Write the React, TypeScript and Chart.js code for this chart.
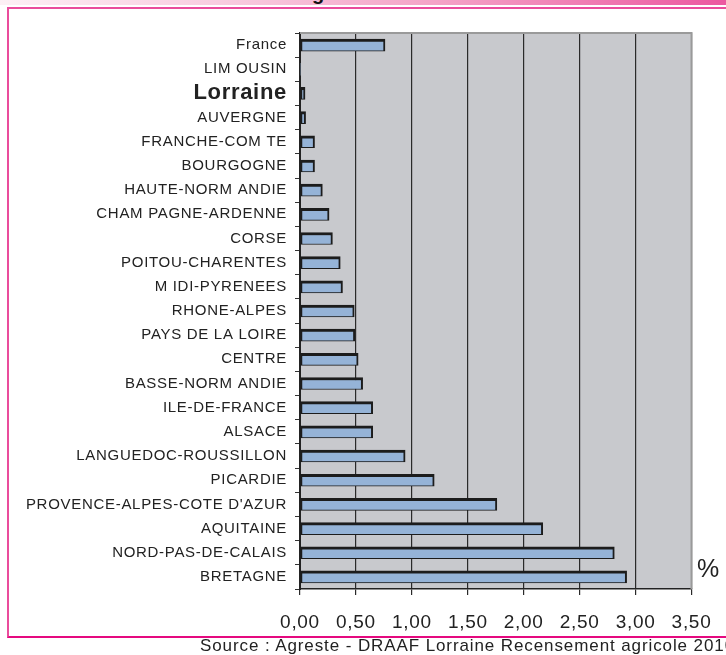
import React, { useEffect, useRef } from "react";
import { Chart, registerables } from "chart.js";

Chart.register(...registerables);

// Regions, listed top to bottom
const regions: string[] = [
  "France",
  "LIM OUSIN",
  "Lorraine",
  "AUVERGNE",
  "FRANCHE-COM TE",
  "BOURGOGNE",
  "HAUTE-NORM ANDIE",
  "CHAM PAGNE-ARDENNE",
  "CORSE",
  "POITOU-CHARENTES",
  "M IDI-PYRENEES",
  "RHONE-ALPES",
  "PAYS DE LA LOIRE",
  "CENTRE",
  "BASSE-NORM ANDIE",
  "ILE-DE-FRANCE",
  "ALSACE",
  "LANGUEDOC-ROUSSILLON",
  "PICARDIE",
  "PROVENCE-ALPES-COTE D'AZUR",
  "AQUITAINE",
  "NORD-PAS-DE-CALAIS",
  "BRETAGNE",
];

// Share (%) per region
const shares: number[] = [
  0.76, 0, 0.045, 0.05, 0.13, 0.13, 0.2, 0.26, 0.29, 0.36, 0.38, 0.485, 0.49,
  0.52, 0.56, 0.65, 0.65, 0.94, 1.2, 1.76, 2.17, 2.81, 2.92,
];

const axisMin = 0;
const axisMax = 3.5;
const axisStep = 0.5;

const FONT = "'Liberation Sans', Arial, sans-serif";

const plotFrame = {
  id: "plotFrame",
  beforeDraw(chart: any) {
    const { ctx, chartArea } = chart;
    ctx.letterSpacing = "0.7px";
    ctx.save();
    ctx.fillStyle = "#c8c9cd";
    ctx.fillRect(
      chartArea.left,
      chartArea.top,
      chartArea.right - chartArea.left,
      chartArea.bottom - chartArea.top
    );
    ctx.restore();
  },
  beforeDatasetsDraw(chart: any) {
    const { ctx, chartArea } = chart;
    ctx.save();
    ctx.strokeStyle = "#9a9a9a";
    ctx.lineWidth = 2;
    ctx.beginPath();
    ctx.moveTo(chartArea.left, chartArea.top);
    ctx.lineTo(chartArea.right, chartArea.top);
    ctx.lineTo(chartArea.right, chartArea.bottom);
    ctx.stroke();
    ctx.restore();
  },
};

export default function App() {
  const canvasRef = useRef<HTMLCanvasElement | null>(null);

  useEffect(() => {
    if (!canvasRef.current) return;
    const chart = new Chart(canvasRef.current, {
      type: "bar",
      data: {
        labels: regions,
        datasets: [
          {
            data: shares,
            backgroundColor: "#95b3d7",
            borderColor: "#1c1c1c",
            borderWidth: (c: any) =>
              c.raw ? { top: 3, left: 2, right: 2, bottom: 1 } : 0,
            borderSkipped: false,
            barThickness: 12,
          },
        ],
      },
      options: {
        indexAxis: "y",
        responsive: false,
        animation: false,
        devicePixelRatio: 1,
        layout: { padding: { top: 33, right: 34, left: 0, bottom: 16 } },
        plugins: {
          legend: { display: false },
          tooltip: { enabled: false },
        },
        scales: {
          x: {
            min: axisMin,
            max: axisMax,
            afterFit: (s: any) => {
              s.height = 50;
            },
            border: { display: true, color: "#222", width: 1.5 },
            grid: {
              color: (c: any) =>
                c.tick && c.tick.value === axisMax ? "#9a9a9a" : "#2a2a2a",
              lineWidth: 1.2,
              tickColor: "#2a2a2a",
              tickLength: 6,
              drawTicks: true,
            },
            ticks: {
              stepSize: axisStep,
              padding: 16,
              color: "#222",
              font: { family: FONT, size: 19 },
              callback: (v: any) => Number(v).toFixed(2).replace(".", ","),
            },
          },
          y: {
            afterFit: (s: any) => {
              s.width = 300;
            },
            border: { display: true, color: "#222", width: 2 },
            grid: {
              offset: true,
              drawOnChartArea: false,
              drawTicks: true,
              tickLength: 5,
              tickColor: "#333",
              color: "#333",
            },
            ticks: {
              autoSkip: false,
              padding: 8,
              color: "#222",
              font: (c: any) =>
                c.index === 2
                  ? { family: FONT, size: 22, weight: "bold" }
                  : { family: FONT, size: 15 },
            },
          },
        },
      },
      plugins: [plotFrame],
    } as any);
    return () => chart.destroy();
  }, []);

  return (
    <div
      style={{
        position: "fixed",
        left: 0,
        top: 0,
        width: 726,
        height: 655,
        overflow: "hidden",
        background: "#fff",
        fontFamily: FONT,
      }}
    >
      <div
        style={{
          position: "absolute",
          left: 0,
          top: 0,
          width: 726,
          height: 5,
          background:
            "linear-gradient(to right, #fdf0f5 0%, #f8cde0 30%, #f4a3c7 60%, #ec57a0 100%)",
        }}
      />
      <div
        style={{
          position: "absolute",
          left: 312,
          top: -18,
          fontSize: 20,
          fontWeight: "bold",
          lineHeight: "23px",
          color: "#111",
        }}
      >
        g
      </div>
      <div
        style={{
          position: "absolute",
          left: 7,
          top: 7,
          width: 740,
          height: 627,
          borderTop: "2px solid #ea4c9c",
          borderLeft: "2px solid #ea4c9c",
          borderBottom: "2px solid #e5097f",
        }}
      />
      <canvas
        ref={canvasRef}
        width={726}
        height={655}
        style={{ position: "absolute", left: 0, top: 0, display: "block" }}
      />
      <div
        style={{
          position: "absolute",
          left: 697,
          top: 556,
          fontSize: 25,
          lineHeight: "25px",
          color: "#222",
          whiteSpace: "nowrap",
        }}
      >
        %
      </div>
      <div
        style={{
          position: "absolute",
          left: 200,
          top: 637,
          fontSize: 17,
          lineHeight: "17px",
          letterSpacing: "0.9px",
          color: "#222",
          whiteSpace: "nowrap",
        }}
      >
        Source : Agreste - DRAAF Lorraine Recensement agricole 2010
      </div>
    </div>
  );
}
